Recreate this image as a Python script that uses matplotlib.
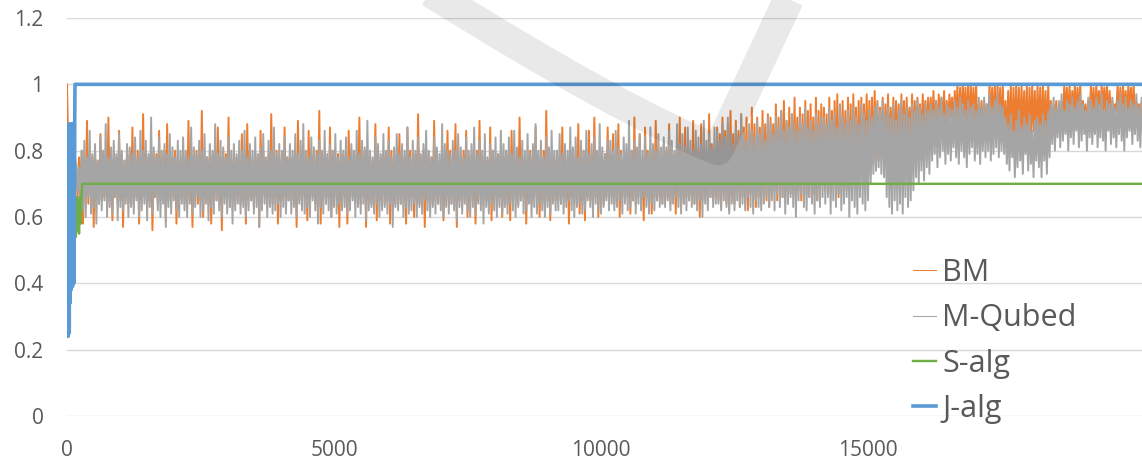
import numpy as np
import matplotlib
matplotlib.use("Agg")
import matplotlib.pyplot as plt
from matplotlib.path import Path
from matplotlib.patches import PathPatch
from matplotlib.lines import Line2D

plt.rcParams['font.family'] = ['Open Sans', 'DejaVu Sans']
plt.rcParams['path.simplify'] = False

# ---------------- data ----------------
SERIES = ["BM", "M-Qubed", "S-alg", "J-alg"]
COLORS = ["#ED7D31", "#A5A5A5", "#70AD47", "#5B9BD5"]
X_TICKS = [0, 5000, 10000, 15000]
X_LABELS = ["0", "5000", "10000", "15000"]
Y_TICKS = [0, 0.2, 0.4, 0.6, 0.8, 1.0, 1.2]
Y_LABELS = ["0", "0.2", "0.4", "0.6", "0.8", "1", "1.2"]

# noisy series are sampled every NOISE_STEP iterations from NOISE_START
NOISE_START = 175
NOISE_STEP = 25

BM_HEAD_X = [0, 25, 50, 75, 100, 125, 150]
BM_HEAD = [1.0, .80, .76, .64, .80, .62, .78]

BM = [
    .74,.66,.78,.65,.80,.58,.77,.66,.89,.64,.79,.65,.78,.57,.80,.66,.77,.64,.85,.65,.79,.66,.78,.63,.90,.65,.80,.59,.77,.66,.78,.64,.86,.65,.79,.57,.77,.66,.80,.64,
    .79,.65,.87,.64,.78,.66,.80,.58,.77,.65,.91,.66,.79,.64,.78,.65,.80,.56,.77,.66,.79,.64,.86,.65,.78,.66,.80,.59,.88,.65,.77,.64,.78,.66,.80,.58,.79,.65,.77,.66,
    .80,.64,.78,.66,.89,.65,.77,.57,.79,.66,.80,.64,.78,.65,.92,.60,.77,.66,.78,.64,.80,.58,.79,.66,.77,.65,.87,.64,.78,.56,.80,.66,.79,.65,.90,.63,.77,.66,.80,.64,
    .78,.66,.77,.64,.85,.65,.79,.58,.88,.66,.80,.65,.77,.63,.79,.66,.78,.57,.86,.65,.80,.66,.77,.64,.79,.65,.91,.64,.78,.66,.80,.58,.77,.65,.79,.66,.87,.63,.78,.65,
    .80,.65,.78,.66,.79,.57,.89,.65,.77,.64,.80,.66,.78,.59,.86,.65,.79,.66,.77,.64,.80,.65,.92,.58,.78,.66,.79,.64,.77,.66,.87,.60,.80,.65,.78,.66,.79,.57,.77,.65,
    .79,.66,.77,.58,.86,.65,.80,.66,.78,.64,.79,.65,.90,.64,.77,.66,.80,.57,.78,.65,.79,.64,.77,.66,.88,.59,.80,.65,.78,.66,.79,.64,.77,.65,.87,.58,.80,.66,.78,.64,
    .77,.65,.85,.64,.79,.66,.78,.58,.87,.65,.80,.66,.77,.60,.79,.65,.91,.64,.78,.66,.80,.57,.77,.65,.79,.66,.78,.64,.89,.65,.80,.64,.77,.66,.79,.59,.78,.65,.86,.66,
    .80,.64,.78,.66,.88,.57,.79,.65,.77,.64,.80,.66,.86,.60,.78,.65,.79,.66,.77,.58,.80,.65,.89,.64,.78,.66,.79,.65,.77,.64,.87,.59,.80,.66,.78,.65,.79,.66,.77,.60,
    .78,.66,.80,.64,.79,.59,.86,.65,.77,.66,.80,.64,.90,.65,.78,.66,.79,.58,.77,.65,.80,.64,.78,.66,.87,.65,.79,.60,.77,.66,.80,.64,.92,.65,.78,.59,.79,.66,.77,.65,
    .80,.65,.78,.64,.87,.66,.79,.65,.77,.58,.80,.66,.78,.64,.79,.66,.88,.61,.77,.65,.80,.59,.78,.66,.86,.65,.79,.64,.90,.66,.77,.60,.80,.65,.78,.64,.79,.66,.87,.65,
    .79,.66,.85,.64,.78,.65,.88,.60,.80,.66,.77,.65,.79,.66,.78,.61,.80,.65,.90,.64,.79,.66,.85,.65,.77,.59,.87,.66,.80,.65,.78,.61,.79,.66,.89,.65,.80,.66,.78,.64,
    .82,.65,.80,.66,.88,.64,.81,.66,.79,.61,.82,.66,.90,.65,.80,.64,.87,.66,.81,.65,.79,.66,.89,.64,.82,.66,.80,.60,.88,.65,.81,.66,.79,.64,.91,.66,.82,.65,.80,.66,
    .87,.65,.85,.63,.90,.67,.86,.64,.88,.62,.92,.66,.85,.64,.89,.68,.86,.63,.91,.66,.87,.64,.90,.62,.86,.67,.93,.65,.88,.63,.90,.66,.87,.64,.92,.68,.88,.65,.91,.63,
    .90,.66,.88,.68,.94,.65,.90,.69,.92,.66,.95,.68,.89,.64,.93,.67,.91,.69,.96,.66,.90,.68,.93,.65,.91,.70,.95,.67,.92,.66,.94,.69,.90,.67,.96,.65,.92,.68,.94,.70,
    .93,.68,.91,.70,.96,.67,.92,.71,.95,.69,.97,.66,.93,.72,.95,.70,.92,.68,.96,.71,.94,.69,.97,.72,.93,.70,.95,.73,.96,.71,.94,.74,.97,.72,.95,.75,.96,.76,.98,.74,
    .95,.77,.93,.79,.96,.76,.94,.80,.97,.78,.93,.82,.96,.79,.95,.81,.94,.78,.97,.83,.95,.80,.96,.82,.93,.84,.97,.81,.95,.83,.96,.85,.94,.82,.97,.86,.95,.84,.96,.87,
    .96,.86,.98,.88,.95,.85,.97,.89,.96,.87,.98,.86,.95,.88,.97,.90,.96,.87,.98,.89,1.0,.86,.99,.88,1.0,.90,.99,.87,1.0,.85,1.0,.89,.99,.88,1.0,.86,.94,.88,.95,.87,
    .95,.88,.94,.86,1.0,.89,.99,.87,1.0,.85,1.0,.88,.99,.86,1.0,.84,.95,.82,.98,.85,1.0,.81,.99,.84,1.0,.83,.99,.82,1.0,.85,.98,.83,1.0,.81,.99,.84,1.0,.86,.98,.83,
    1.0,.84,.99,.82,1.0,.85,.98,.83,1.0,.86,.95,.84,.94,.88,.95,.87,.93,.90,.95,.87,1.0,.91,.99,.89,1.0,.88,.98,.92,1.0,.89,.99,.90,1.0,.87,.95,.91,.94,.88,.95,.90,
    1.0,.90,.99,.88,1.0,.91,.98,.89,1.0,.92,.99,.90,1.0,.88,.98,.91,.95,.89,.94,.92,1.0,.90,.99,.88,1.0,.91,.98,.89,1.0,.92,.99,.90,1.0,.88,.95,.91,.94,.89,.95,.90,
]

M_QUBED = [
    .76,.68,.75,.64,.80,.62,.83,.60,.78,.66,.86,.61,.79,.63,.82,.58,.77,.64,.84,.62,.80,.65,.88,.60,.78,.63,.81,.61,.83,.66,.79,.59,.85,.63,.80,.62,.77,.64,.82,.60,
    .81,.63,.79,.61,.84,.65,.78,.60,.86,.62,.80,.64,.83,.59,.79,.63,.90,.61,.81,.66,.78,.62,.84,.60,.80,.64,.82,.57,.79,.63,.85,.61,.81,.65,.78,.62,.83,.60,.80,.64,
    .84,.62,.80,.60,.78,.64,.87,.61,.81,.63,.79,.66,.83,.60,.80,.62,.85,.64,.78,.59,.82,.63,.80,.61,.88,.65,.79,.62,.83,.60,.81,.64,.78,.61,.84,.63,.80,.58,.82,.62,
    .79,.64,.83,.61,.80,.63,.86,.60,.78,.62,.82,.65,.80,.61,.84,.63,.79,.57,.81,.62,.85,.64,.78,.60,.83,.63,.80,.61,.87,.62,.79,.64,.82,.60,.80,.63,.84,.61,.78,.65,
    .82,.61,.80,.63,.85,.60,.79,.64,.83,.62,.88,.61,.80,.63,.78,.60,.84,.65,.81,.62,.79,.58,.83,.63,.80,.61,.86,.64,.79,.62,.82,.60,.80,.63,.85,.61,.78,.64,.83,.62,
    .80,.63,.84,.61,.78,.62,.82,.65,.80,.60,.86,.63,.79,.61,.83,.64,.81,.59,.89,.62,.80,.63,.78,.61,.84,.64,.82,.60,.79,.62,.85,.63,.80,.61,.83,.64,.78,.57,.81,.63,
    .85,.62,.79,.64,.82,.60,.80,.63,.87,.61,.78,.62,.83,.64,.80,.60,.84,.63,.79,.61,.82,.65,.86,.62,.80,.60,.78,.63,.84,.61,.81,.64,.79,.62,.88,.60,.82,.63,.80,.61,
    .79,.64,.83,.62,.80,.59,.85,.63,.81,.61,.78,.64,.84,.62,.80,.60,.82,.63,.87,.61,.79,.64,.83,.62,.80,.58,.85,.63,.78,.61,.82,.64,.80,.62,.84,.60,.79,.63,.86,.61,
    .82,.63,.80,.61,.84,.64,.79,.62,.86,.60,.81,.63,.78,.65,.83,.61,.80,.62,.85,.64,.79,.60,.82,.63,.88,.61,.80,.64,.83,.62,.78,.60,.84,.63,.81,.61,.86,.64,.80,.62,
    .80,.62,.85,.64,.79,.61,.82,.63,.80,.65,.87,.62,.81,.60,.84,.63,.78,.64,.83,.61,.80,.62,.86,.65,.79,.63,.82,.60,.84,.64,.80,.62,.88,.61,.81,.63,.79,.65,.83,.62,
    .83,.64,.80,.62,.86,.63,.81,.65,.79,.61,.84,.64,.82,.62,.89,.63,.80,.65,.83,.61,.81,.64,.85,.62,.80,.66,.84,.63,.79,.61,.87,.64,.82,.62,.80,.65,.85,.63,.81,.64,
    .84,.63,.81,.65,.86,.62,.83,.64,.80,.66,.88,.63,.82,.61,.85,.64,.81,.62,.87,.65,.83,.63,.80,.64,.86,.62,.84,.65,.82,.60,.89,.64,.83,.62,.85,.66,.81,.63,.87,.64,
    .86,.64,.83,.62,.88,.65,.84,.63,.90,.61,.85,.64,.82,.62,.87,.65,.84,.63,.91,.64,.85,.62,.83,.66,.88,.63,.86,.61,.84,.65,.89,.63,.85,.62,.87,.64,.83,.66,.90,.63,
    .88,.65,.85,.62,.90,.67,.87,.63,.92,.66,.86,.61,.89,.64,.87,.66,.91,.63,.88,.60,.86,.65,.90,.67,.88,.63,.93,.62,.87,.66,.89,.64,.86,.61,.91,.65,.88,.63,.90,.66,
    .90,.64,.88,.66,.93,.61,.89,.65,.91,.63,.87,.67,.94,.62,.90,.64,.88,.66,.92,.60,.89,.65,.93,.63,.90,.61,.88,.66,.94,.64,.91,.62,.89,.65,.92,.70,.90,.73,.93,.74,
    .94,.75,.92,.73,.95,.72,.91,.66,.93,.63,.90,.61,.94,.65,.89,.62,.92,.64,.95,.61,.91,.66,.93,.63,.90,.65,.94,.68,.92,.72,.95,.70,.93,.74,.91,.71,.94,.75,.92,.73,
    .94,.77,.92,.79,.95,.75,.93,.78,.96,.80,.91,.76,.94,.79,.93,.77,.92,.81,.95,.78,.93,.76,.96,.80,.94,.78,.92,.75,.95,.79,.93,.81,.94,.77,.92,.79,.96,.76,.93,.80,
    .96,.78,.94,.80,.97,.77,.93,.79,.95,.81,.97,.78,.94,.80,.93,.79,.90,.76,.88,.74,.91,.78,.86,.72,.89,.75,.92,.77,.87,.73,.90,.79,.88,.74,.91,.76,.86,.72,.89,.77,
    .90,.75,.88,.72,.91,.77,.89,.73,.92,.78,.94,.82,.96,.80,.93,.84,.95,.81,.97,.83,.92,.85,.95,.80,.94,.84,.96,.82,.93,.86,.95,.81,.97,.83,.94,.85,.92,.80,.96,.84,
    .95,.82,.93,.85,.96,.81,.94,.84,.97,.83,.92,.80,.95,.86,.94,.82,.96,.84,.93,.81,.95,.85,.97,.83,.94,.80,.96,.84,.93,.86,.95,.82,.94,.85,.97,.83,.93,.81,.96,.84,
]

S_ALG_X = [150, 165, 180, 195, 210, 225, 240, 255, 270, 285, 20150]
S_ALG = [.66, .54, .66, .56, .65, .55, .66, .58, .66, .70, .70]

J_ALG_X = [0, 6, 12, 18, 24, 30, 36, 42, 48, 54, 60, 66, 72, 78, 84, 90, 96,
           102, 108, 114, 120, 126, 132, 138, 144, 150, 20150]
J_ALG = [.80, .26, .86, .24, .88, .30, .87, .25, .88, .34, .86, .40, .88, .38,
         .87, .42, .88, .39, .87, .45, .88, .40, .86, .55, .88, 1.0, 1.0]

# ---------------- figure ----------------
W_PX, H_PX = 1142, 459
fig = plt.figure(figsize=(W_PX / 100, H_PX / 100), dpi=100)
ax_left, ax_bottom, ax_top = 67, 416, 18
ax = fig.add_axes([ax_left / W_PX, (H_PX - ax_bottom) / H_PX,
                   1 - ax_left / W_PX, (ax_bottom - ax_top) / H_PX])

x_bm = np.concatenate([BM_HEAD_X, NOISE_START + NOISE_STEP * np.arange(len(BM))])
y_bm = np.concatenate([BM_HEAD, BM])
x_mq = NOISE_START + NOISE_STEP * np.arange(len(M_QUBED))

ax.plot(x_bm, y_bm, color=COLORS[0], lw=1.4, label=SERIES[0], zorder=2)
ax.plot(x_mq, M_QUBED, color=COLORS[1], lw=1.4, label=SERIES[1], zorder=3)
ax.plot(S_ALG_X, S_ALG, color=COLORS[2], lw=1.75, label=SERIES[2], zorder=4)
ax.plot(J_ALG_X, J_ALG, color=COLORS[3], lw=2.6, label=SERIES[3], zorder=5)

ax.set_xlim(0, 20131)
ax.set_ylim(0, 1.2)
ax.set_xticks(X_TICKS)
ax.set_xticklabels(X_LABELS)
ax.set_yticks(Y_TICKS)
ax.set_yticklabels(Y_LABELS)
for s in ax.spines.values():
    s.set_visible(False)
ax.yaxis.grid(True, color="#d9d9d9", lw=1.0)
ax.set_axisbelow(True)
ax.tick_params(axis="both", length=0, labelsize=15, labelcolor="#595959")
ax.tick_params(axis="y", pad=17)
ax.tick_params(axis="x", pad=17)

handles = [Line2D([], [], color=COLORS[0], lw=0.75),
           Line2D([], [], color=COLORS[1], lw=0.75),
           Line2D([], [], color=COLORS[2], lw=1.75),
           Line2D([], [], color=COLORS[3], lw=2.6)]
leg = ax.legend(handles, SERIES, loc="upper left",
                bbox_to_anchor=(913 / W_PX, 1 - 258 / H_PX),
                bbox_transform=fig.transFigure, frameon=False, fontsize=22,
                handlelength=0.75, handletextpad=0.2, labelspacing=0.5,
                borderpad=0, borderaxespad=0)
for t in leg.get_texts():
    t.set_color("#595959")

# faint watermark stroke (decoration of the source image)
def fp(x, y):
    return (x / W_PX, 1 - y / H_PX)

verts = [fp(430, -8), fp(626, 114), fp(718, 150), fp(792, -8)]
codes = [Path.MOVETO, Path.CURVE3, Path.CURVE3, Path.LINETO]
fig.add_artist(PathPatch(Path(verts, codes), transform=fig.transFigure,
                         fill=False, lw=22, edgecolor=(0, 0, 0, 0.085),
                         capstyle="butt", joinstyle="round", zorder=10))

fig.savefig("out.png", dpi=100)
